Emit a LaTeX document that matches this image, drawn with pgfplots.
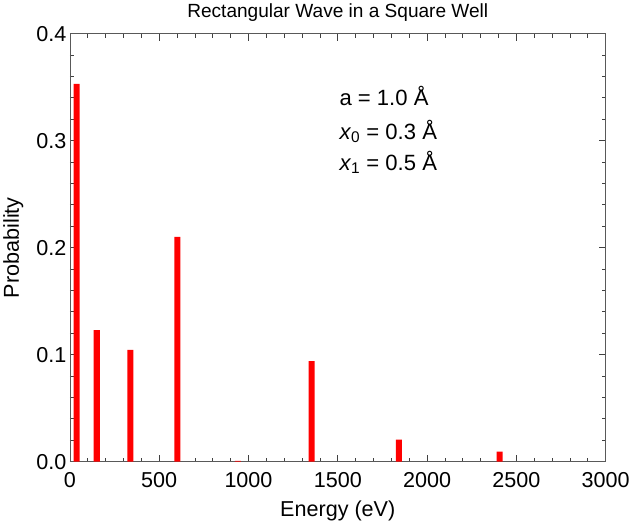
\documentclass[border=0pt]{standalone}
\usepackage{pgfplots}
\pgfplotsset{compat=1.18}
\usepackage{fontspec}
\setmainfont{Liberation Sans}
\begin{document}
\begin{tikzpicture}
\begin{axis}[
    scale only axis,
    width=532bp, height=425bp,
    xmin=0, xmax=3000,
    ymin=0, ymax=0.4,
    xtick={0,500,...,3000},
    ytick={0,0.1,...,0.4},
    minor x tick num=4,
    minor y tick num=4,
    xticklabel style={/pgf/number format/1000 sep={}},
    xticklabel shift=7bp,
    yticklabel style={/pgf/number format/fixed, /pgf/number format/fixed zerofill, /pgf/number format/precision=1},
    /pgf/number format/assume math mode=true,
    scaled y ticks=false,
    tick label style={font=\fontsize{21.5}{24}\selectfont},
    label style={font=\fontsize{21.5}{24}\selectfont},
    title style={font=\fontsize{19}{22}\selectfont, yshift=3bp},
    title={Rectangular Wave in a Square Well},
    xlabel={Energy (eV)},
    ylabel={Probability},
    xlabel style={yshift=-6bp},
    ylabel style={yshift=6bp},
    major tick length=7bp,
    minor tick length=4bp,
    tick style={black!75, line width=0.8pt},
    axis line style={black!65, line width=0.8pt},
    tick align=inside,
]
\addplot[ybar, bar width=6bp, fill=red, draw=none] coordinates {
    (37.6, 0.353)
    (150.4, 0.123)
    (338.4, 0.1045)
    (601.6, 0.210)
    (940.0, 0.0008)
    (1353.6, 0.094)
    (1842.4, 0.0207)
    (2406.4, 0.0094)
};
\node[anchor=west, font=\fontsize{22}{25}\selectfont] at (axis cs:1490,0.3416) {a = 1.0 Å};
\node[anchor=west, font=\fontsize{22}{25}\selectfont] at (axis cs:1490,0.3087) {\textit{x}\textsubscript{0} = 0.3 Å};
\node[anchor=west, font=\fontsize{22}{25}\selectfont] at (axis cs:1490,0.2795) {\textit{x}\textsubscript{1} = 0.5 Å};
\end{axis}
\end{tikzpicture}
\end{document}
